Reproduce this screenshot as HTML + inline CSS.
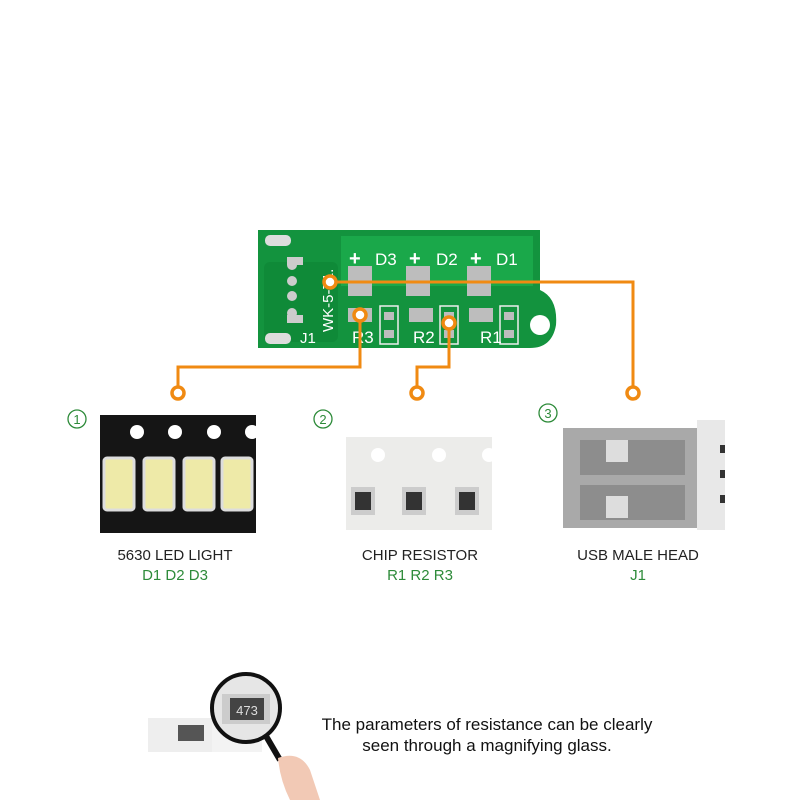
<!DOCTYPE html><html><head><style>body{margin:0;background:#fff}svg{display:block}text{font-family:"Liberation Sans",sans-serif}</style></head><body>
<svg width="800" height="800" viewBox="0 0 800 800">
<!-- PCB -->
<path d="M258 230 H540 V290 Q558 298 556 325 Q552 348 530 348 H258 Z" fill="#13933e"/>
<rect x="341" y="236" width="192" height="50" fill="#1aa84a"/>
<rect x="264" y="262" width="74" height="80" rx="6" fill="#0f8a38"/>
<circle cx="540" cy="325" r="10" fill="#fff"/>
<rect x="265" y="235" width="26" height="11" rx="5" fill="#ddd"/>
<rect x="265" y="333" width="26" height="11" rx="5" fill="#ddd"/>
<g fill="#ccc"><circle cx="292" cy="265" r="5"/><circle cx="292" cy="281" r="5"/><circle cx="292" cy="296" r="5"/><circle cx="292" cy="313" r="5"/></g>
<rect x="287" y="257" width="16" height="8" fill="#ccc"/><rect x="287" y="315" width="16" height="8" fill="#ccc"/>
<g fill="#bdbdbd">
<rect x="348" y="266" width="24" height="30"/><rect x="406" y="266" width="24" height="30"/><rect x="467" y="266" width="24" height="30"/>
<rect x="348" y="308" width="24" height="14"/><rect x="409" y="308" width="24" height="14"/><rect x="469" y="308" width="24" height="14"/>
<rect x="384" y="312" width="10" height="8"/><rect x="384" y="330" width="10" height="8"/>
<rect x="444" y="312" width="10" height="8"/><rect x="444" y="330" width="10" height="8"/>
<rect x="504" y="312" width="10" height="8"/><rect x="504" y="330" width="10" height="8"/>
</g>
<g fill="none" stroke="#eee" stroke-width="1.5"><rect x="380" y="306" width="18" height="38"/><rect x="440" y="306" width="18" height="38"/><rect x="500" y="306" width="18" height="38"/></g>
<g fill="#fff" font-size="17"><text x="375" y="265">D3</text><text x="436" y="265">D2</text><text x="496" y="265">D1</text>
<text x="349" y="265" font-size="20" font-weight="bold">+</text><text x="409" y="265" font-size="20" font-weight="bold">+</text><text x="470" y="265" font-size="20" font-weight="bold">+</text>
<text x="300" y="343" font-size="15">J1</text><text x="352" y="343">R3</text><text x="413" y="343">R2</text><text x="480" y="343">R1</text>
<text transform="translate(333,332) rotate(-90)" font-size="15">WK-5-71.</text></g>
<!-- orange connectors -->
<g fill="none" stroke="#f08a12" stroke-width="3">
<path d="M330 282 H633 V388"/><path d="M360 315 V367 H178 V388"/><path d="M449 323 V367 H417 V388"/>
</g>
<g fill="#fff" stroke="#f08a12" stroke-width="3.5"><circle cx="330" cy="282" r="6"/><circle cx="360" cy="315" r="6"/><circle cx="449" cy="323" r="6"/>
<circle cx="178" cy="393" r="6"/><circle cx="417" cy="393" r="6"/><circle cx="633" cy="393" r="6"/></g>
<!-- numbers -->
<g fill="none" stroke="#2e8b3a" stroke-width="1.3"><circle cx="77" cy="419" r="9"/><circle cx="323" cy="419" r="9"/><circle cx="548" cy="413" r="9"/></g>
<g fill="#2e8b3a" font-size="13" text-anchor="middle"><text x="77" y="424">1</text><text x="323" y="424">2</text><text x="548" y="418">3</text></g>
<!-- LED tape -->
<rect x="100" y="415" width="156" height="118" fill="#151515"/>
<g fill="#fff"><circle cx="137" cy="432" r="7"/><circle cx="175" cy="432" r="7"/><circle cx="214" cy="432" r="7"/><circle cx="252" cy="432" r="7"/></g>
<g fill="#eeeaa8" stroke="#ddd" stroke-width="3"><rect x="104" y="458" width="30" height="52" rx="3"/><rect x="144" y="458" width="30" height="52" rx="3"/><rect x="184" y="458" width="30" height="52" rx="3"/><rect x="222" y="458" width="30" height="52" rx="3"/></g>
<!-- resistor tape -->
<rect x="346" y="437" width="146" height="93" fill="#ececea"/>
<g fill="#fff"><circle cx="378" cy="455" r="7"/><circle cx="439" cy="455" r="7"/><circle cx="489" cy="455" r="7"/></g>
<g><rect x="351" y="487" width="24" height="28" fill="#ccc"/><rect x="355" y="492" width="16" height="18" fill="#333"/>
<rect x="402" y="487" width="24" height="28" fill="#ccc"/><rect x="406" y="492" width="16" height="18" fill="#333"/>
<rect x="455" y="487" width="24" height="28" fill="#ccc"/><rect x="459" y="492" width="16" height="18" fill="#333"/></g>
<!-- USB -->
<rect x="563" y="428" width="135" height="100" fill="#a9a9a9"/>
<rect x="580" y="440" width="105" height="35" fill="#8d8d8d"/><rect x="580" y="485" width="105" height="35" fill="#8d8d8d"/>
<rect x="606" y="440" width="22" height="22" fill="#ddd"/><rect x="606" y="496" width="22" height="22" fill="#ddd"/>
<rect x="697" y="420" width="28" height="110" fill="#e8e8e8"/>
<g fill="#333"><rect x="720" y="445" width="5" height="8"/><rect x="720" y="470" width="5" height="8"/><rect x="720" y="495" width="5" height="8"/></g>
<!-- labels -->
<g font-size="15" text-anchor="middle"><text x="175" y="560" fill="#222">5630 LED LIGHT</text><text x="175" y="580" fill="#2e8b3a">D1 D2 D3</text>
<text x="420" y="560" fill="#222">CHIP RESISTOR</text><text x="420" y="580" fill="#2e8b3a">R1 R2 R3</text>
<text x="638" y="560" fill="#222">USB MALE HEAD</text><text x="638" y="580" fill="#2e8b3a">J1</text></g>
<!-- magnifier -->
<path d="M148 718 H212 V752 H148 Z" fill="#eee"/>
<path d="M212 718 L222 690 L262 690 L262 752 H212 Z" fill="#f3f3f3"/>
<rect x="178" y="725" width="26" height="16" fill="#555"/>
<circle cx="246" cy="708" r="34" fill="#e6e6e6" stroke="#111" stroke-width="4"/>
<rect x="222" y="694" width="48" height="30" fill="#ccc"/><rect x="230" y="698" width="34" height="22" fill="#444"/>
<text x="247" y="715" fill="#ddd" font-size="13" text-anchor="middle">473</text>
<path d="M266 736 L280 760" stroke="#111" stroke-width="6"/>
<path d="M278 758 Q300 750 310 770 L320 800 H290 Q280 780 278 758 Z" fill="#f2c9b5"/>
<g font-size="17" text-anchor="middle" fill="#111"><text x="487" y="730">The parameters of resistance can be clearly</text><text x="487" y="751">seen through a magnifying glass.</text></g>
</svg></body></html>
